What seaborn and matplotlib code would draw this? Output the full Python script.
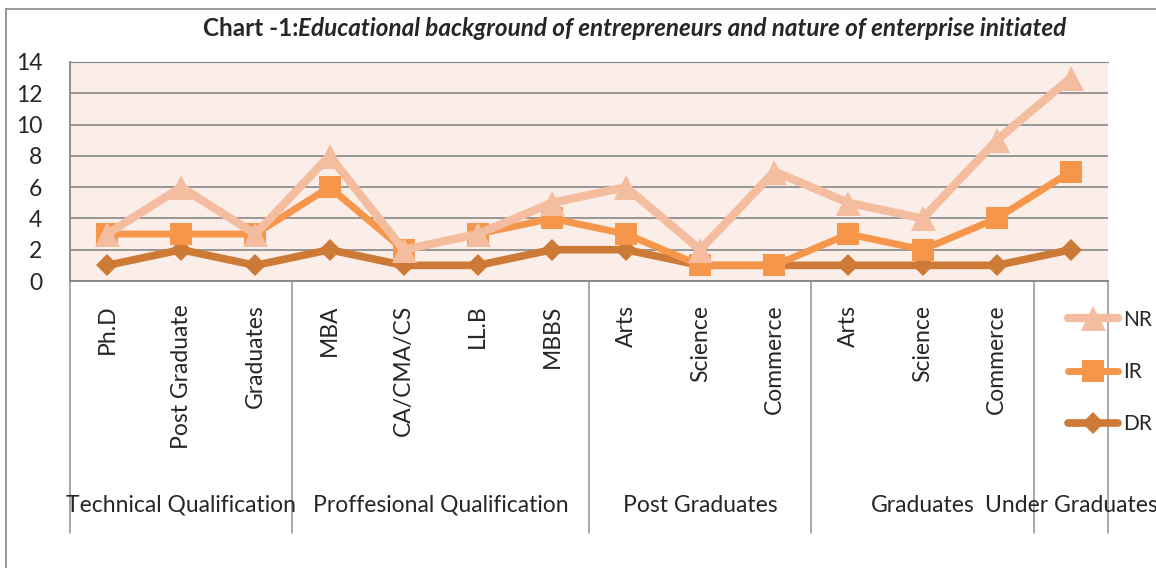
import numpy as np
import pandas as pd
import matplotlib.pyplot as plt
import seaborn as sns

# datos
categorias = ["Ph.D", "Post Graduate", "Graduates", "MBA", "CA/CMA/CS", "LL.B", "MBBS",
              "Arts", "Science", "Commerce", "Arts", "Science", "Commerce", ""]
grupos = ["Technical Qualification", "Proffesional Qualification", "Post Graduates",
          "Graduates", "Under Graduates"]
tam_grupos = [3, 4, 3, 3, 1]
nr = [3, 6, 3, 8, 2, 3, 5, 6, 2, 7, 5, 4, 9, 13]
ir = [3, 3, 3, 6, 2, 3, 4, 3, 1, 1, 3, 2, 4, 7]
dr = [1, 2, 1, 2, 1, 1, 2, 2, 1, 1, 1, 1, 1, 2]

sns.set_style("white")
plt.rcParams['font.family'] = ['Lato', 'DejaVu Sans']
fs = 16.5

W, H = 1156, 568
fig = plt.figure(figsize=(W / 100, H / 100), dpi=100)
x0, x1, ytop, ybot = 70, 1108, 62, 281
ax = fig.add_axes([x0 / W, (H - ybot) / H, (x1 - x0) / W, (ybot - ytop) / H])
ax.set_facecolor("#FBEEE9")

pos = np.arange(len(categorias))
df = pd.DataFrame({"pos": pos, "NR": nr, "IR": ir, "DR": dr})

# orden de dibujo: DR abajo, NR arriba
estilos = {
    "DR": dict(color="#CC7A35", marker="D", markersize=11, linewidth=5.5),
    "IR": dict(color="#F5964A", marker="s", markersize=16, linewidth=5),
    "NR": dict(color="#F5BD9F", marker="^", markersize=18, linewidth=6),
}
for serie in ["DR", "IR", "NR"]:
    st = estilos[serie]
    sns.lineplot(data=df, x="pos", y=serie, ax=ax, label=serie, color=st["color"],
                 marker=st["marker"], markersize=st["markersize"], linewidth=st["linewidth"],
                 markeredgewidth=0, zorder=3, clip_on=False)

ax.set_xlim(-0.5, len(categorias) - 0.5)
ax.set_ylim(0, 14)
ax.set_yticks(range(0, 15, 2))
ax.yaxis.grid(True, color="#878787", linewidth=1.2)
ax.set_axisbelow(True)
ax.set_xlabel("")
ax.set_ylabel("")
ax.tick_params(axis="y", length=0, pad=20, labelsize=fs)
ax.set_xticks(pos)
ax.set_xticklabels(categorias, rotation=90, fontsize=fs, va="top")
ax.tick_params(axis="x", length=0, pad=17)
for lado in ["left", "bottom"]:
    ax.spines[lado].set_color("#878787")
    ax.spines[lado].set_linewidth(1.3)
ax.spines["right"].set_visible(False)
ax.spines["top"].set_color("#878787")

# separadores y etiquetas de grupo
yfondo = -(533 - ybot) / (ybot - ytop)
ygrupo = -(505 - ybot) / (ybot - ytop)
trans = ax.get_xaxis_transform()
inicio = -0.5
limites = [inicio]
for g, n in zip(grupos, tam_grupos):
    fin = inicio + n
    ax.text((inicio + fin) / 2, ygrupo, g, transform=trans, ha="center", va="center",
            fontsize=fs, clip_on=False)
    limites.append(fin)
    inicio = fin
for b in limites:
    ax.plot([b, b], [0, yfondo], transform=trans, color="#999999", linewidth=1.2,
            clip_on=False)

# leyenda
h, l = ax.get_legend_handles_labels()
orden = [l.index("NR"), l.index("IR"), l.index("DR")]
ax.legend([h[i] for i in orden], [l[i] for i in orden], loc="center left",
          bbox_to_anchor=(1068 / W, (H - 372) / H), bbox_transform=fig.transFigure,
          frameon=False, fontsize=15, handlelength=2.4, handletextpad=0.25,
          labelspacing=1.55, borderaxespad=0, borderpad=0)

# titulo en dos partes
fig.text(298 / W, 1 - 28 / H, "Chart -1:", ha="right", va="center", fontsize=17.5,
         fontweight="bold")
fig.text(298 / W, 1 - 28 / H,
         "Educational background of entrepreneurs and nature of enterprise initiated",
         ha="left", va="center", fontsize=17.5, fontweight="bold", fontstyle="italic")

# marco exterior
fig.add_artist(plt.Line2D([6 / W, 1], [1 - 9 / H, 1 - 9 / H], transform=fig.transFigure,
                          color="#888888", linewidth=1.2))
fig.add_artist(plt.Line2D([6 / W, 6 / W], [0, 1 - 9 / H], transform=fig.transFigure,
                          color="#888888", linewidth=1.2))

fig.savefig("out.png", dpi=100)
